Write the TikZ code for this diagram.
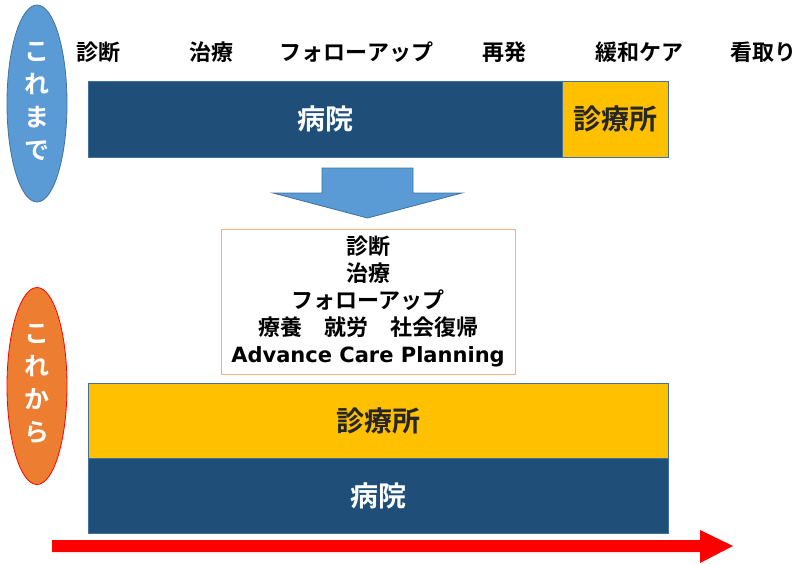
\documentclass[tikz,border=0pt]{standalone}
\usepackage{fontspec}
\setmainfont{Noto Sans CJK JP}[BoldFont={Noto Sans CJK JP Bold}]
\newfontfamily\latinbold{DejaVu Sans}
\usetikzlibrary{shapes.geometric}
\definecolor{ellblue}{HTML}{5B9BD5}
\definecolor{edgeblue}{HTML}{41719C}
\definecolor{ellorange}{HTML}{ED7D31}
\definecolor{hospblue}{HTML}{1F4E79}
\definecolor{clinicyellow}{HTML}{FFC000}
\definecolor{boxorange}{HTML}{F4B183}
\definecolor{darktext}{HTML}{262626}
\tikzset{
  toplabel/.style={font=\fontsize{22}{25}\selectfont\bfseries, text=black, inner sep=0pt},
  phase/.style={ellipse, minimum width=60pt, minimum height=197pt, inner sep=0pt, line width=0.8pt},
  phasetext/.style={font=\fontsize{25}{33}\selectfont\bfseries, text=white, align=center},
  hosp/.style={draw=edgeblue, fill=hospblue, line width=0.8pt, inner sep=0pt, text=white, font=\fontsize{28}{30}\selectfont\bfseries},
  clinic/.style={draw=edgeblue, fill=clinicyellow, line width=0.8pt, inner sep=0pt, text=darktext, font=\fontsize{28}{30}\selectfont\bfseries},
}
\begin{document}
\begin{tikzpicture}[x=1pt,y=-1pt]
\useasboundingbox (0,0) rectangle (798,563);
% ellipses
\node[phase, draw=edgeblue, fill=ellblue] (past) at (37,103.5) {};
\node[phasetext] (pasttext) at (37,101) {こ\\れ\\ま\\で};
\node[phase, draw=red, fill=ellorange] (future) at (37,386) {};
\node[phasetext] (futuretext) at (37,384) {こ\\れ\\か\\ら};
% top labels
\node[toplabel] (l1) at (98.5,52) {診断};
\node[toplabel] (l2) at (211,52) {治療};
\node[toplabel] (l3) at (356.5,52) {フォローアップ};
\node[toplabel] (l4) at (504.5,52) {再発};
\node[toplabel] (l5) at (639,52) {緩和ケア};
\node[toplabel, anchor=west] (l6) at (730,52) {看取り};
% top bars
\node[hosp, minimum width=475pt, minimum height=76pt] (hosptop) at (325.5,119) {病院};
\node[clinic, minimum width=106pt, minimum height=76pt] (clinictop) at (615,119) {診療所};
% down arrow
\path[draw=edgeblue, fill=ellblue, line width=0.8pt]
  (322,168) coordinate (dA) -- (413,168) -- (413,193) -- (462,193) -- (367.5,218) coordinate (dtip) -- (273,193) -- (322,193) -- cycle;
% middle box
\node[draw=boxorange, line width=0.8pt, fill=white, minimum width=294pt, minimum height=145pt, align=center, inner sep=0pt,
  font=\fontsize{22}{27}\selectfont\bfseries, text=black] (mid) at (368,301.5)
  {診断\\治療\\フォローアップ\\療養　就労　社会復帰\\{\latinbold\bfseries\fontsize{21}{27}\selectfont Advance Care Planning}};
% bottom bars
\node[clinic, minimum width=580pt, minimum height=75pt] (clinicbot) at (378,420.5) {診療所};
\node[hosp, minimum width=580pt, minimum height=75pt] (hospbot) at (378,495.5) {病院};
% red time arrow
\path[fill=red]
  (52,540) coordinate (rA) -- (700,540) -- (700,530) -- (733,546) coordinate (rtip) -- (700,563) -- (700,552) -- (52,552) -- cycle;
\end{tikzpicture}
\end{document}
